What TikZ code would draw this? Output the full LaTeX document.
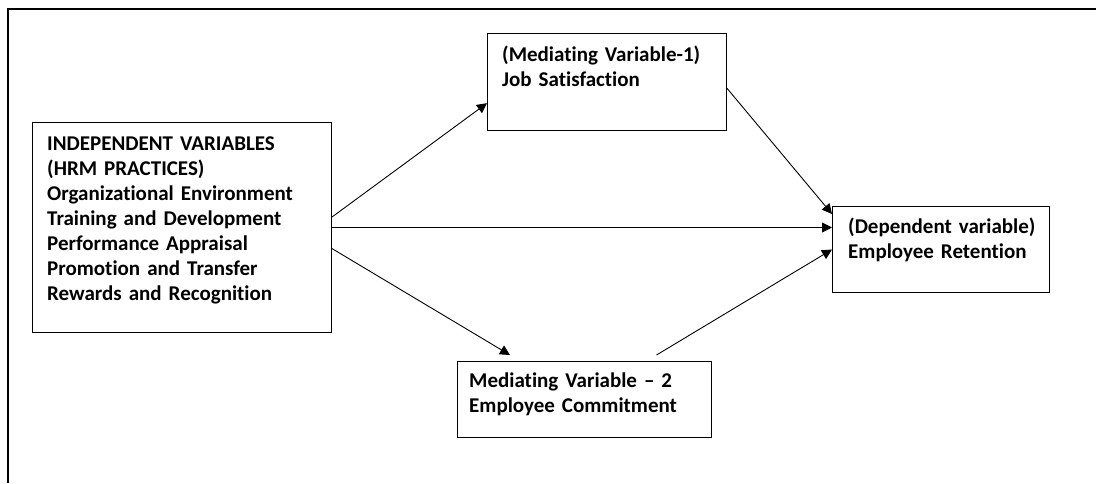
\documentclass[tikz,border=0pt]{standalone}
\usepackage{fontspec}
\setmainfont{Carlito}[Ligatures=NoCommon]
\usetikzlibrary{arrows.meta,calc}

\tikzset{
  varbox/.style={draw, line width=1pt, anchor=north west, inner sep=0pt},
  vartext/.style={anchor=base west, inner sep=0pt, align=left,
    font=\fontsize{21}{25}\selectfont\bfseries},
  link/.style={line width=0.9pt, -{Triangle[length=10pt,width=10pt]}}
}

\begin{document}
\begin{tikzpicture}[x=1pt,y=-1pt]
  \useasboundingbox (0,0) rectangle (1096,483);
  % outer frame
  \draw[line width=2pt] (7.7,483) |- (1096,9.2);

  % boxes
  \node[varbox, minimum width=299pt, minimum height=210pt] (indep) at (32,122) {};
  \node[varbox, minimum width=239pt, minimum height=97pt] (job) at (487,33) {};
  \node[varbox, minimum width=217pt, minimum height=86pt] (dep) at (832,206) {};
  \node[varbox, minimum width=254pt, minimum height=76pt] (commit) at (457,361) {};

  % texts
  \node[vartext, text width=260pt] (indeptxt) at ($(indep.north west)+(15,28)$)
    {INDEPENDENT VARIABLES\\(HRM PRACTICES)\\Organizational Environment\\Training and Development\\Performance Appraisal\\Promotion and Transfer\\Rewards and Recognition};
  \node[vartext, text width=215pt] (jobtxt) at ($(job.north west)+(15,28.5)$)
    {(Mediating Variable-1)\\Job Satisfaction};
  \node[vartext, text width=195pt] (deptxt) at ($(dep.north west)+(16,27)$)
    {(Dependent variable)\\Employee Retention};
  \node[vartext, text width=240pt] (committxt) at ($(commit.north west)+(12,26)$)
    {Mediating Variable -- 2\\Employee Commitment};

  % arrows
  \draw[link] (indep.4.6) -- (job.190);
  \draw[link] (indep.east) -- (indep.east -| dep.west);
  \draw[link] (indep.-8.7) -- ($(commit.north west)+(53,-6)$);
  \draw[link] (job.-3.6) -- ($(dep.north west)+(0,8)$);
  \draw[link] ($(commit.north)+(72,-6)$) -- (dep.west);
\end{tikzpicture}
\end{document}
